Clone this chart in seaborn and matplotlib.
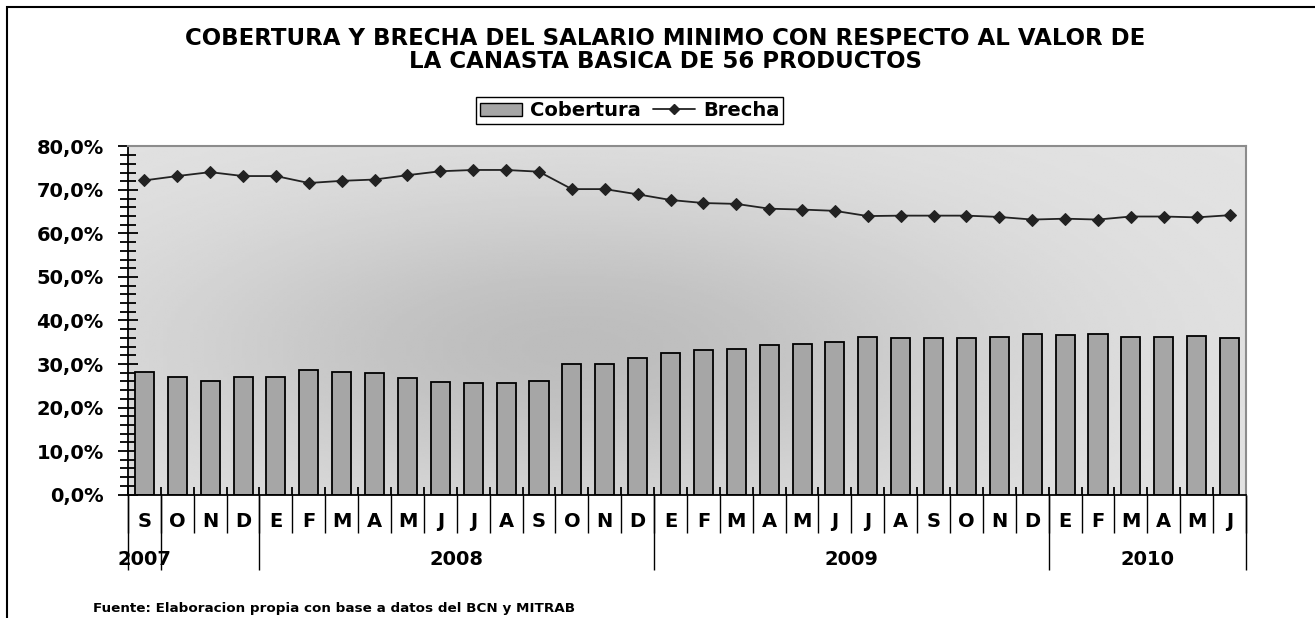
import numpy as np
import pandas as pd
import seaborn as sns
import matplotlib.pyplot as plt
import matplotlib.transforms as mtransforms
from matplotlib.patches import Patch, Rectangle
from matplotlib.lines import Line2D

# datos
meses = ['S', 'O', 'N', 'D',
         'E', 'F', 'M', 'A', 'M', 'J', 'J', 'A', 'S', 'O', 'N', 'D',
         'E', 'F', 'M', 'A', 'M', 'J', 'J', 'A', 'S', 'O', 'N', 'D',
         'E', 'F', 'M', 'A', 'M', 'J']
grupos = ['2007', '', '2008', '2009', '2010']
tamanos = [1, 3, 12, 12, 6]
cobertura = [28.1, 27.1, 26.1, 27.0,
             27.0, 28.6, 28.1, 27.9, 26.8, 25.8, 25.6, 25.6, 26.1, 30.1, 30.1, 31.3,
             32.5, 33.2, 33.4, 34.4, 34.6, 35.0, 36.2, 35.9, 35.9, 35.9, 36.2, 36.9,
             36.6, 36.9, 36.2, 36.2, 36.4, 35.9]
brecha = [72.2, 73.2, 74.1, 73.2,
          73.2, 71.6, 72.1, 72.4, 73.4, 74.3, 74.6, 74.6, 74.2, 70.2, 70.2, 69.0,
          67.7, 67.0, 66.8, 65.7, 65.5, 65.2, 64.0, 64.1, 64.1, 64.1, 63.8, 63.2,
          63.4, 63.2, 63.9, 63.9, 63.7, 64.2]

titulo1 = 'COBERTURA Y BRECHA DEL SALARIO MINIMO CON RESPECTO AL VALOR DE'
titulo2 = 'LA CANASTA BASICA DE 56 PRODUCTOS'
fuente = 'Fuente: Elaboracion propia con base a datos del BCN y MITRAB'

sns.set_style('ticks')
plt.rcParams['font.family'] = ['DejaVu Sans']
plt.rcParams['font.weight'] = 'bold'
for k in ['text.color', 'xtick.color', 'ytick.color', 'axes.labelcolor']:
    plt.rcParams[k] = 'black'

n = len(meses)
df = pd.DataFrame({'idx': range(n), 'Cobertura': cobertura, 'Brecha': brecha})

fig = plt.figure(figsize=(13.15, 6.18), dpi=100)
ax = fig.add_axes([0.0973, 0.1998, 0.8502, 0.5632])

# fondo degradado del area de trazado
gx, gy = np.meshgrid(np.linspace(0, 1, 300), np.linspace(0, 1, 200))
d = ((gx - 0.40) / 0.38) ** 2 + ((gy - 0.42) / 0.45) ** 2
fondo = 0.89 - 0.15 * np.exp(-d)
ax.imshow(fondo, extent=(-0.5, n - 0.5, 0, 80), origin='lower', cmap='gray',
          vmin=0, vmax=1, aspect='auto', zorder=0, interpolation='bilinear')

sns.barplot(data=df, x='idx', y='Cobertura', color='#a6a6a6', saturation=1,
            edgecolor='black', linewidth=1.3, width=0.58, ax=ax, zorder=2)
sns.lineplot(data=df, x='idx', y='Brecha', color='#222222', marker='D',
             markersize=6, markeredgecolor='#222222', linewidth=1.3, ax=ax, zorder=3)

ax.set_xlim(-0.5, n - 0.5)
ax.set_ylim(0, 80)
ax.set_xlabel('')
ax.set_ylabel('')

yt = np.arange(0, 81, 10)
ax.set_yticks(yt)
ax.set_yticklabels([f'{v:.1f}%'.replace('.', ',') for v in yt])
ax.set_yticks(np.arange(0, 81, 2), minor=True)
ax.tick_params(axis='y', which='major', direction='inout', length=15, width=1.3,
               labelsize=14, pad=10)
ax.tick_params(axis='y', which='minor', direction='inout', length=11, width=1.3)
ax.set_xticks(np.arange(n + 1) - 0.5)
ax.set_xticklabels([])
ax.tick_params(axis='x', which='major', direction='in', length=6, width=1.3)

for s in ['left', 'bottom']:
    ax.spines[s].set_color('black')
    ax.spines[s].set_linewidth(1.3)
for s in ['top', 'right']:
    ax.spines[s].set_visible(True)
    ax.spines[s].set_color('#8c8c8c')
    ax.spines[s].set_linewidth(1.5)

# etiquetas de categorias en dos niveles
tr = mtransforms.blended_transform_factory(ax.transData, ax.transAxes)
ax.vlines(np.arange(n + 1) - 0.5, -0.111, 0, transform=tr, colors='black',
          linewidth=1, clip_on=False)
limites = np.concatenate([[0], np.cumsum(tamanos)]) - 0.5
ax.vlines(limites, -0.218, 0, transform=tr, colors='black', linewidth=1, clip_on=False)
for i, m in enumerate(meses):
    ax.text(i, -0.078, m, transform=tr, ha='center', va='center', fontsize=14,
            fontweight='bold')
for g, a, b in zip(grupos, limites[:-1], limites[1:]):
    if g:
        ax.text((a + b) / 2, -0.186, g, transform=tr, ha='center', va='center',
                fontsize=14, fontweight='bold')

handles = [Patch(facecolor='#a6a6a6', edgecolor='black', label='Cobertura'),
           Line2D([], [], color='#222222', marker='D', markersize=5, linewidth=1.3,
                  label='Brecha')]
leg = fig.legend(handles=handles, loc='center', bbox_to_anchor=(0.4787, 0.821), ncol=2,
                 frameon=True, fancybox=False, edgecolor='black', framealpha=1,
                 fontsize=14, handlelength=2.2, columnspacing=0.6,
                 handletextpad=0.4, borderpad=0.2)
leg.get_frame().set_linewidth(1)

fig.text(0.506, 0.937, titulo1, ha='center', va='center', fontsize=16.5, fontweight='bold')
fig.text(0.506, 0.901, titulo2, ha='center', va='center', fontsize=16.5, fontweight='bold')
fig.text(0.0707, 0.016, fuente, ha='left', va='center', fontsize=9.7, fontweight='bold')

fig.add_artist(Rectangle((7 / 1315, -0.1), 1.2, 1.0887, transform=fig.transFigure,
                         fill=False, edgecolor='black', linewidth=1.5))

fig.savefig('out.png', dpi=100)
